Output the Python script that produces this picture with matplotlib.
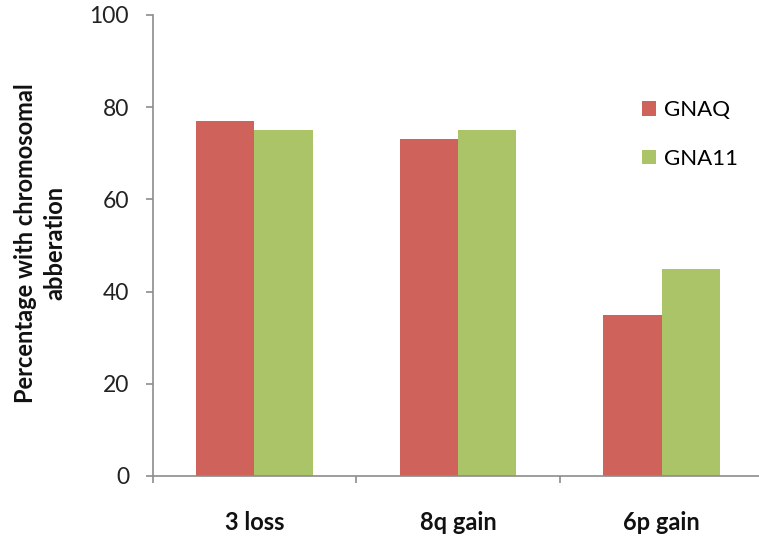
import matplotlib.pyplot as plt
import numpy as np
from matplotlib.patches import Patch

# data
categories = ["3 loss", "8q gain", "6p gain"]
gnaq = [77, 73, 35]
gna11 = [75, 75, 45]
series_names = ["GNAQ", "GNA11"]
yticks = [0, 20, 40, 60, 80, 100]

red = "#D0625C"
green = "#AAC467"
axis_grey = "#8C8C8C"

plt.rcParams["font.family"] = ["Lato", "DejaVu Sans"]

W, H = 759, 538
fig = plt.figure(figsize=(W / 100, H / 100), dpi=100)
ax = fig.add_axes([152.7 / W, 1 - 476 / H, (763.5 - 152.7) / W, (476 - 15) / H])

x = np.arange(len(categories))
bw = 0.286
ax.bar(x - bw / 2, gnaq, width=bw, color=red, label=series_names[0])
ax.bar(x + bw / 2, gna11, width=bw, color=green, label=series_names[1])

ax.set_xlim(-0.5, len(categories) - 0.5)
ax.set_ylim(0, 100)

# spines
for side in ["top", "right"]:
    ax.spines[side].set_visible(False)
for side in ["left", "bottom"]:
    ax.spines[side].set_color(axis_grey)
    ax.spines[side].set_linewidth(1.2)

# y axis
ax.set_yticks(yticks)
ax.tick_params(axis="y", direction="out", length=5, width=1.2, color=axis_grey,
               pad=12, labelsize=16.5, labelcolor="#222222")

# x axis: ticks between groups, labels at group centres
ax.set_xticks(np.arange(-0.5, len(categories), 1.0))
ax.set_xticklabels([])
ax.tick_params(axis="x", which="major", direction="out", length=5, width=1.2,
               color=axis_grey)
ax.set_xticks(x, minor=True)
ax.set_xticklabels(categories, minor=True, fontweight="bold", fontsize=17)
ax.tick_params(axis="x", which="minor", length=0, pad=25, labelcolor="#111111")

fig.text(40 / W, 1 - 243 / H, "Percentage with chromosomal\nabberation",
         rotation=90, ha="center", va="center", multialignment="center",
         fontsize=17, fontweight="bold", color="#111111", linespacing=1.35)

handles = [Patch(facecolor=red, label=series_names[0]),
           Patch(facecolor=green, label=series_names[1])]
ax.legend(handles=handles, loc="upper left",
          bbox_to_anchor=(642 / W, 1 - 100 / H), bbox_transform=fig.transFigure,
          frameon=False, fontsize=16, borderpad=0, borderaxespad=0,
          handlelength=0.65, handleheight=0.65, handletextpad=0.35,
          labelspacing=1.3)

plt.savefig("out.png", dpi=100)
